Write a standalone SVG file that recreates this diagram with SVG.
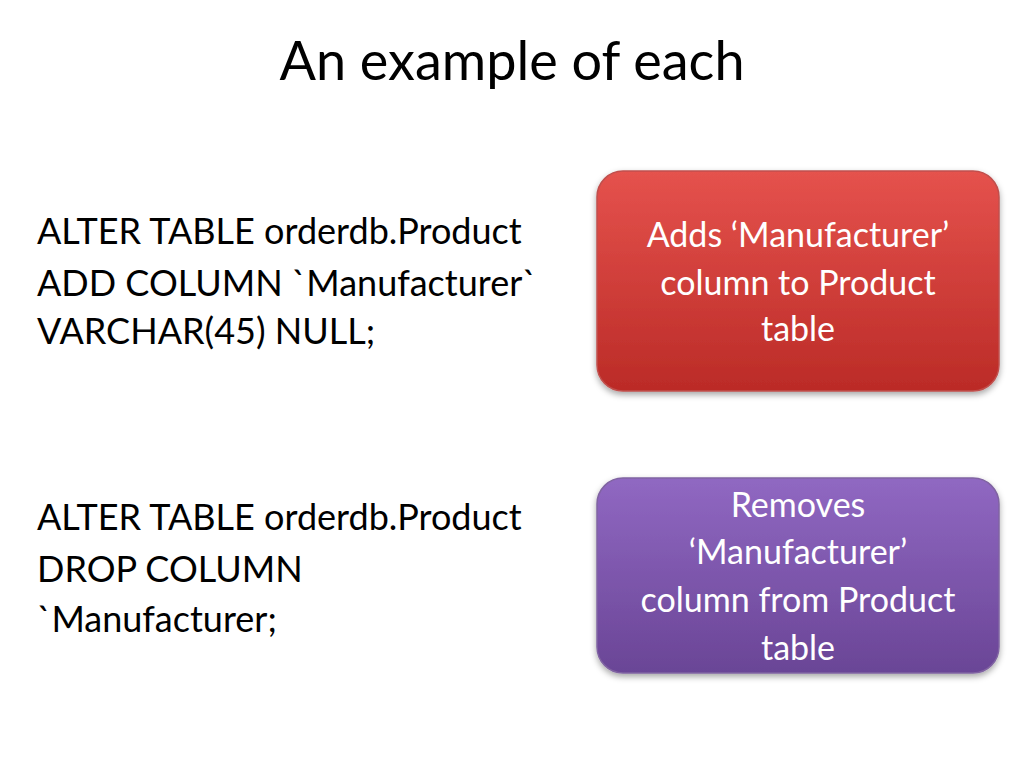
<svg xmlns="http://www.w3.org/2000/svg" width="1024" height="768" viewBox="0 0 1024 768">
<defs>
<linearGradient id="gr" x1="0" y1="0" x2="0" y2="1"><stop offset="0" stop-color="#e5524d"/><stop offset="1" stop-color="#bb2b27"/></linearGradient>
<linearGradient id="gp" x1="0" y1="0" x2="0" y2="1"><stop offset="0" stop-color="#9068c2"/><stop offset="1" stop-color="#6a4596"/></linearGradient>
<filter id="sh" x="-10%" y="-10%" width="120%" height="130%"><feDropShadow dx="0" dy="3" stdDeviation="3" flood-opacity="0.35"/></filter>
</defs>
<style>
text{font-family:"Lato","Open Sans","Liberation Sans",sans-serif}
.t{font-size:36px;fill:#000}
.b{font-size:34px;fill:#fff;text-anchor:middle}
</style>
<rect width="1024" height="768" fill="#fff"/>
<text x="512" y="80" font-size="54" text-anchor="middle">An example of each</text>
<g id="code1"><text class="t" x="37" y="244">ALTER TABLE orderdb.Product</text><text class="t" x="37" y="296">ADD COLUMN `Manufacturer`</text><text class="t" x="37" y="344">VARCHAR(45) NULL;</text></g>
<g id="code2"><text class="t" x="37" y="530">ALTER TABLE orderdb.Product</text><text class="t" x="37" y="582">DROP COLUMN</text><text class="t" x="37" y="632">`Manufacturer;</text></g>
<g id="add"><rect x="597" y="171" width="402" height="220" rx="26" fill="url(#gr)" stroke="#c0504d" stroke-width="1.5" filter="url(#sh)"/>
<text class="b" x="798" y="247">Adds ‘Manufacturer’</text><text class="b" x="798" y="295">column to Product</text><text class="b" x="798" y="341">table</text></g>
<g id="remove"><rect x="597" y="478" width="402" height="195" rx="26" fill="url(#gp)" stroke="#8064a2" stroke-width="1.5" filter="url(#sh)"/>
<text class="b" x="798" y="517">Removes</text><text class="b" x="798" y="564">‘Manufacturer’</text><text class="b" x="798" y="612">column from Product</text><text class="b" x="798" y="660">table</text></g>
<g id="connectors"/>
</svg>
